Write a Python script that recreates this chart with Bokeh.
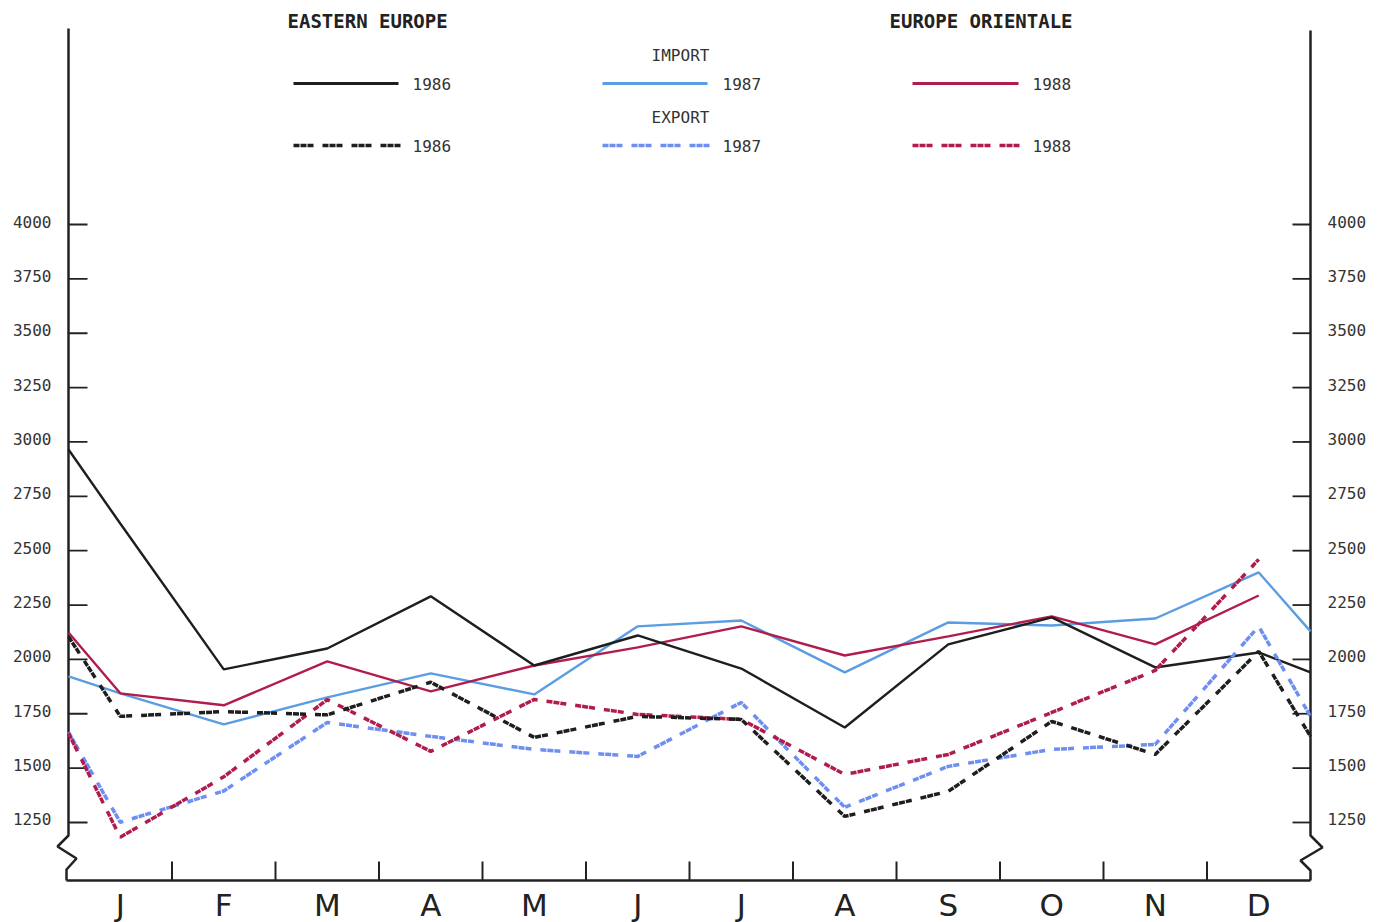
from bokeh.plotting import figure
from bokeh.models import Range1d
from bokeh.embed import file_html
from bokeh.resources import INLINE
from bokeh.core.properties import value

# ---------------- data ----------------
months = ["J", "F", "M", "A", "M", "J", "J", "A", "S", "O", "N", "D"]
y_ticks = [1250, 1500, 1750, 2000, 2250, 2500, 2750, 3000, 3250, 3500, 3750, 4000]

import_1986 = [2625, 1954, 2050, 2290, 1972, 2110, 1958, 1687, 2069, 2193, 1963, 2032]
import_1987 = [1844, 1701, 1825, 1936, 1839, 2152, 2179, 1940, 2170, 2156, 2188, 2400]
import_1988 = [1844, 1789, 1991, 1853, 1972, 2055, 2152, 2018, 2106, 2198, 2069, 2294]
export_1986 = [1738, 1760, 1745, 1895, 1641, 1738, 1724, 1278, 1393, 1715, 1563, 2037]
export_1987 = [1251, 1395, 1710, 1646, 1586, 1554, 1802, 1320, 1508, 1586, 1609, 2152]
export_1988 = [1182, 1460, 1815, 1577, 1816, 1747, 1724, 1471, 1563, 1756, 1949, 2460]

# values where each line meets the left frame (from previous December)
# and the right frame (towards following January); 1988 stops at December
lead_1986_imp, tail_1986_imp = 2965, 1940
lead_1987_imp, tail_1987_imp = 1922, 2129
lead_1988_imp = 2124
lead_1986_exp, tail_1986_exp = 2105, 1646
lead_1987_exp, tail_1987_exp = 1665, 1738
lead_1988_exp = 1660

# ---------------- layout helpers ----------------
W, H = 1386, 922
PX_PER_MONTH = 103.5
PX_PER_UNIT = 0.21745
LEFT_PX = 68      # pixel of the left frame line (month -0.5)
Y4000_PX = 224    # pixel of the 4000 tick
x_start = -0.5 - LEFT_PX / PX_PER_MONTH
x_end = x_start + W / PX_PER_MONTH
y_top = 4000 + Y4000_PX / PX_PER_UNIT
y_bottom = y_top - H / PX_PER_UNIT


def px(xpix):
    return x_start + xpix / PX_PER_MONTH


def py(ypix):
    return y_top - ypix / PX_PER_UNIT


p = figure(width=W, height=H, x_range=Range1d(x_start, x_end),
           y_range=Range1d(y_bottom, y_top), x_axis_type=None, y_axis_type=None,
           toolbar_location=None, output_backend="svg", min_border=0)
p.grid.visible = False
p.outline_line_color = None
p.background_fill_color = "white"
p.border_fill_color = "white"

AX = "#222222"
BLACK = "#1e1e1e"
BLUE = "#5a9de2"
BLUE_D = "#6f8ff0"
RED = "#b01d4c"
DASH = "6 1 6 1 6 9"
MONO = value("DejaVu Sans Mono")

# ---------------- axes ----------------
p.line([-0.5, -0.5, px(57), px(76), px(66), px(66)],
       [py(28), py(835), py(846), py(858), py(869), py(880)],
       line_color=AX, line_width=2.5)
p.line([11.5, 11.5, px(1322), px(1300), 11.5, 11.5],
       [py(30), py(835), py(847), py(860), py(870), py(880)],
       line_color=AX, line_width=2.5)
p.line([px(66), 11.5], [py(880), py(880)], line_color=AX, line_width=2.5)

n = len(y_ticks)
p.segment(x0=[-0.5] * n, x1=[px(87)] * n, y0=y_ticks, y1=y_ticks,
          line_color=AX, line_width=1.8)
p.segment(x0=[px(1292)] * n, x1=[11.5] * n, y0=y_ticks, y1=y_ticks,
          line_color=AX, line_width=1.8)
p.text(x=[px(51)] * n, y=y_ticks, text=[str(v) for v in y_ticks],
       text_align="right", text_baseline="middle", y_offset=-3,
       text_font=MONO, text_font_size="16px", text_color="#333333")
p.text(x=[px(1327)] * n, y=y_ticks, text=[str(v) for v in y_ticks],
       text_align="left", text_baseline="middle", y_offset=-3,
       text_font=MONO, text_font_size="16px", text_color="#333333")

bounds = [i + 0.5 for i in range(len(months) - 1)]
p.segment(x0=bounds, x1=bounds, y0=[py(880)] * len(bounds), y1=[py(861)] * len(bounds),
          line_color=AX, line_width=2)
p.text(x=list(range(len(months))), y=[py(904)] * len(months), text=months,
       text_align="center", text_baseline="middle",
       text_font=value("DejaVu Sans"), text_font_size="31px", text_color="#222222")

# ---------------- series ----------------
xm = list(range(12))
x_full = [-0.5] + xm + [11.5]
x_lead = [-0.5] + xm

p.line(x_full, [lead_1987_imp] + import_1987 + [tail_1987_imp], line_color=BLUE, line_width=2.4)
p.line(x_lead, [lead_1988_imp] + import_1988, line_color=RED, line_width=2.4)
p.line(x_full, [lead_1986_imp] + import_1986 + [tail_1986_imp], line_color=BLACK, line_width=2.4)

p.line(x_full, [lead_1987_exp] + export_1987 + [tail_1987_exp], line_color=BLUE_D,
       line_width=3.5, line_dash=DASH)
p.line(x_lead, [lead_1988_exp] + export_1988, line_color=RED,
       line_width=3.5, line_dash=DASH)
p.line(x_full, [lead_1986_exp] + export_1986 + [tail_1986_exp], line_color=BLACK,
       line_width=3.5, line_dash=DASH)

# ---------------- legend / titles ----------------
p.text(x=[px(287), px(889)], y=[py(20), py(20)], text=["EASTERN EUROPE", "EUROPE ORIENTALE"],
       text_align="left", text_baseline="middle", text_font=MONO, text_font_style="bold",
       text_font_size="19px", text_color="#222222")
p.text(x=[px(680), px(680)], y=[py(55), py(117)], text=["IMPORT", "EXPORT"],
       text_align="center", text_baseline="middle", text_font=MONO,
       text_font_size="16px", text_color="#333333")

leg_cols = [(293, 398, 412, "1986", BLACK, BLACK),
            (602, 707, 722, "1987", BLUE, BLUE_D),
            (912, 1018, 1032, "1988", RED, RED)]
for x0, x1, xt, lab, c_imp, c_exp in leg_cols:
    p.line([px(x0), px(x1)], [py(83), py(83)], line_color=c_imp, line_width=3)
    p.line([px(x0), px(x0 + 107)], [py(145), py(145)], line_color=c_exp, line_width=3.5,
           line_dash=DASH)
    p.text(x=[px(xt), px(xt)], y=[py(83), py(145)], text=[lab, lab],
           text_align="left", text_baseline="middle", text_font=MONO,
           text_font_size="16px", text_color="#333333")

open("out.html", "w").write(file_html(p, INLINE))
